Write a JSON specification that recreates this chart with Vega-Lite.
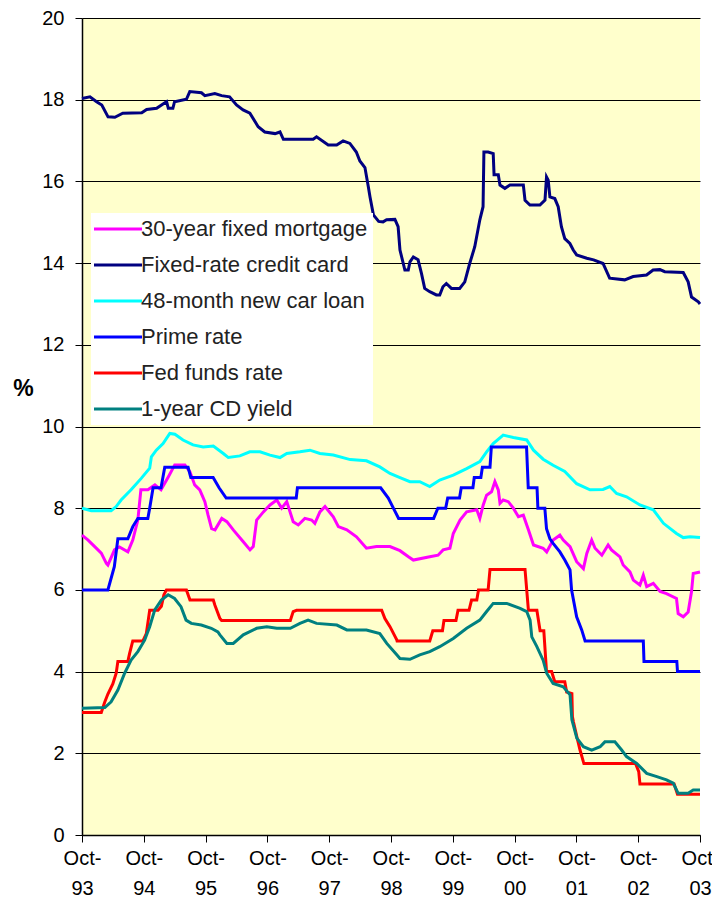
{
  "$schema": "https://vega.github.io/schema/vega-lite/v6.json",
  "width": 618,
  "height": 817,
  "autosize": {"type": "none"},
  "padding": {"left": 82, "top": 18, "right": 12, "bottom": 72},
  "background": "white",
  "config": {
    "view": {"fill": "#FFFFCC", "stroke": null},
    "font": "Liberation Sans"
  },
  "encoding": {
    "x": {
      "field": "d", "type": "temporal",
      "scale": {"domain": [{"year": 1993, "month": 10, "date": 1}, {"year": 2003, "month": 10, "date": 1}]},
      "axis": {
        "title": null,
        "values": [
          {"year": 1993, "month": 10, "date": 1}, {"year": 1994, "month": 10, "date": 1}, {"year": 1995, "month": 10, "date": 1},
          {"year": 1996, "month": 10, "date": 1}, {"year": 1997, "month": 10, "date": 1}, {"year": 1998, "month": 10, "date": 1},
          {"year": 1999, "month": 10, "date": 1}, {"year": 2000, "month": 10, "date": 1}, {"year": 2001, "month": 10, "date": 1},
          {"year": 2002, "month": 10, "date": 1}, {"year": 2003, "month": 10, "date": 1}
        ],
        "labelExpr": "['Oct-', timeFormat(datum.value, '%y')]",
        "tickSize": 7,
        "grid": false,
        "domainColor": "black",
        "domainWidth": 1.5,
        "tickColor": "black",
        "labelFontSize": 20,
        "labelColor": "black",
        "labelLineHeight": 30,
        "labelPadding": 6,
        "labelFlush": false,
        "labelOverlap": false,
        "labelBound": false
      }
    },
    "y": {
      "field": "v", "type": "quantitative",
      "scale": {"domain": [0, 20]},
      "axis": {
        "title": "%",
        "titleAngle": 0,
        "titleFontSize": 23,
        "titleFontWeight": "bold",
        "titleColor": "black",
        "titleX": -59,
        "titleY": 370,
        "titleAlign": "center",
        "titleBaseline": "middle",
        "values": [0, 2, 4, 6, 8, 10, 12, 14, 16, 18, 20],
        "grid": true,
        "gridColor": "black",
        "gridWidth": 1,
        "gridOpacity": 1,
        "tickSize": 7,
        "tickColor": "black",
        "domainColor": "black",
        "domainWidth": 1.5,
        "labelFontSize": 20,
        "labelColor": "black",
        "labelPadding": 11
      }
    }
  },
  "layer": [
    {
      "data": {"values": [
        {"d":"1993-10-01","v":7.34},{"d":"1993-11-06","v":7.22},{"d":"1993-12-15","v":7.06},{"d":"1994-01-23","v":6.90},{"d":"1994-02-22","v":6.65},{"d":"1994-03-03","v":6.61},{"d":"1994-04-11","v":6.98},{"d":"1994-05-10","v":7.05},{"d":"1994-06-29","v":6.93},{"d":"1994-07-28","v":7.22},{"d":"1994-08-27","v":7.71},{"d":"1994-09-14","v":8.45},{"d":"1994-10-25","v":8.45},{"d":"1994-12-06","v":8.57},{"d":"1995-01-11","v":8.45},{"d":"1995-02-22","v":8.76},{"d":"1995-04-02","v":9.06},{"d":"1995-06-01","v":9.06},{"d":"1995-07-01","v":8.89},{"d":"1995-07-29","v":8.57},{"d":"1995-08-28","v":8.45},{"d":"1995-09-27","v":8.16},{"d":"1995-10-16","v":7.83},{"d":"1995-11-06","v":7.50},{"d":"1995-11-26","v":7.47},{"d":"1996-01-05","v":7.75},{"d":"1996-02-04","v":7.67},{"d":"1996-03-13","v":7.47},{"d":"1996-05-11","v":7.18},{"d":"1996-06-20","v":6.98},{"d":"1996-07-09","v":7.06},{"d":"1996-07-29","v":7.71},{"d":"1996-09-07","v":7.91},{"d":"1996-10-16","v":8.08},{"d":"1996-11-25","v":8.20},{"d":"1996-12-24","v":8.00},{"d":"1997-01-23","v":8.16},{"d":"1997-03-02","v":7.67},{"d":"1997-04-01","v":7.59},{"d":"1997-05-10","v":7.75},{"d":"1997-06-19","v":7.71},{"d":"1997-07-08","v":7.63},{"d":"1997-08-07","v":7.91},{"d":"1997-09-06","v":8.04},{"d":"1997-10-25","v":7.79},{"d":"1997-11-24","v":7.55},{"d":"1998-01-13","v":7.47},{"d":"1998-03-11","v":7.30},{"d":"1998-05-09","v":7.02},{"d":"1998-07-07","v":7.06},{"d":"1998-09-25","v":7.06},{"d":"1998-11-23","v":6.96},{"d":"1999-01-12","v":6.81},{"d":"1999-02-10","v":6.73},{"d":"1999-05-18","v":6.81},{"d":"1999-07-06","v":6.85},{"d":"1999-08-05","v":6.98},{"d":"1999-09-14","v":7.02},{"d":"1999-10-04","v":7.38},{"d":"1999-11-13","v":7.71},{"d":"1999-12-22","v":7.91},{"d":"2000-02-20","v":7.96},{"d":"2000-03-09","v":7.75},{"d":"2000-03-29","v":8.08},{"d":"2000-04-18","v":8.32},{"d":"2000-05-17","v":8.40},{"d":"2000-06-06","v":8.65},{"d":"2000-06-26","v":8.45},{"d":"2000-07-06","v":8.12},{"d":"2000-07-25","v":8.20},{"d":"2000-08-24","v":8.16},{"d":"2000-09-23","v":8.00},{"d":"2000-10-23","v":7.79},{"d":"2000-11-21","v":7.83},{"d":"2000-12-21","v":7.47},{"d":"2001-01-20","v":7.10},{"d":"2001-03-18","v":7.02},{"d":"2001-04-08","v":6.93},{"d":"2001-05-16","v":7.22},{"d":"2001-06-25","v":7.34},{"d":"2001-07-15","v":7.22},{"d":"2001-08-24","v":7.06},{"d":"2001-10-02","v":6.69},{"d":"2001-11-11","v":6.52},{"d":"2001-12-01","v":6.89},{"d":"2001-12-30","v":7.22},{"d":"2002-01-19","v":7.02},{"d":"2002-02-28","v":6.85},{"d":"2002-04-06","v":7.10},{"d":"2002-04-26","v":6.98},{"d":"2002-06-15","v":6.81},{"d":"2002-07-04","v":6.61},{"d":"2002-08-13","v":6.44},{"d":"2002-09-02","v":6.24},{"d":"2002-10-11","v":6.12},{"d":"2002-10-31","v":6.36},{"d":"2002-11-20","v":6.08},{"d":"2002-12-29","v":6.16},{"d":"2003-02-07","v":5.96},{"d":"2003-03-17","v":5.91},{"d":"2003-05-15","v":5.79},{"d":"2003-05-25","v":5.42},{"d":"2003-06-24","v":5.34},{"d":"2003-07-23","v":5.46},{"d":"2003-08-12","v":5.96},{"d":"2003-08-22","v":6.40},{"d":"2003-10-01","v":6.44}
      ]},
      "mark": {"type": "line", "strokeWidth": 3},
      "encoding": {
        "color": {
          "datum": "30-year fixed mortgage", "type": "nominal",
          "scale": {
            "domain": ["30-year fixed mortgage", "Fixed-rate credit card", "48-month new car loan", "Prime rate", "Fed funds rate", "1-year CD yield"],
            "range": ["#FF00FF", "#000080", "#00FFFF", "#0000FF", "#FF0000", "#008080"]
          },
          "legend": {
            "orient": "none",
            "legendX": 9,
            "legendY": 195,
            "title": null,
            "fillColor": "white",
            "padding": 5,
            "labelFontSize": 22,
            "labelColor": "#222222",
            "labelLimit": 400,
            "symbolType": "M-4,0H4",
            "symbolSize": 144,
            "symbolStrokeWidth": 3,
            "symbolOffset": 11,
            "labelOffset": 12,
            "rowPadding": 14
          }
        }
      }
    },
    {
      "data": {"values": [
        {"d":"1993-10-01","v":18.03},{"d":"1993-11-17","v":18.07},{"d":"1993-12-26","v":17.95},{"d":"1994-01-26","v":17.87},{"d":"1994-03-04","v":17.58},{"d":"1994-04-13","v":17.57},{"d":"1994-05-30","v":17.67},{"d":"1994-09-19","v":17.68},{"d":"1994-10-18","v":17.76},{"d":"1994-12-16","v":17.79},{"d":"1995-01-25","v":17.90},{"d":"1995-02-13","v":17.95},{"d":"1995-02-23","v":17.79},{"d":"1995-03-22","v":17.79},{"d":"1995-04-01","v":17.95},{"d":"1995-06-10","v":18.01},{"d":"1995-06-30","v":18.20},{"d":"1995-09-07","v":18.17},{"d":"1995-09-27","v":18.10},{"d":"1995-11-25","v":18.15},{"d":"1996-01-04","v":18.10},{"d":"1996-02-20","v":18.07},{"d":"1996-04-01","v":17.87},{"d":"1996-05-10","v":17.75},{"d":"1996-06-19","v":17.67},{"d":"1996-08-07","v":17.34},{"d":"1996-09-15","v":17.21},{"d":"1996-11-15","v":17.17},{"d":"1996-12-14","v":17.21},{"d":"1997-01-03","v":17.03},{"d":"1997-06-28","v":17.03},{"d":"1997-07-18","v":17.09},{"d":"1997-09-25","v":16.89},{"d":"1997-11-14","v":16.89},{"d":"1997-12-22","v":16.99},{"d":"1998-01-31","v":16.93},{"d":"1998-03-10","v":16.72},{"d":"1998-03-31","v":16.50},{"d":"1998-04-30","v":16.34},{"d":"1998-05-20","v":15.87},{"d":"1998-05-30","v":15.62},{"d":"1998-06-19","v":15.18},{"d":"1998-07-20","v":15.02},{"d":"1998-08-15","v":15.01},{"d":"1998-09-05","v":15.06},{"d":"1998-10-24","v":15.07},{"d":"1998-11-12","v":14.89},{"d":"1998-11-23","v":14.32},{"d":"1998-12-22","v":13.83},{"d":"1999-01-11","v":13.83},{"d":"1999-01-21","v":14.03},{"d":"1999-02-10","v":14.15},{"d":"1999-03-10","v":14.08},{"d":"1999-03-30","v":13.75},{"d":"1999-04-18","v":13.38},{"d":"1999-05-18","v":13.30},{"d":"1999-06-26","v":13.22},{"d":"1999-07-16","v":13.22},{"d":"1999-08-04","v":13.42},{"d":"1999-08-24","v":13.50},{"d":"1999-09-23","v":13.38},{"d":"1999-11-11","v":13.38},{"d":"1999-12-11","v":13.54},{"d":"2000-01-09","v":13.99},{"d":"2000-02-08","v":14.40},{"d":"2000-03-09","v":15.06},{"d":"2000-03-28","v":15.38},{"d":"2000-04-02","v":16.72},{"d":"2000-04-27","v":16.72},{"d":"2000-05-27","v":16.68},{"d":"2000-06-01","v":16.16},{"d":"2000-06-26","v":16.16},{"d":"2000-07-06","v":15.91},{"d":"2000-08-04","v":15.83},{"d":"2000-09-03","v":15.91},{"d":"2000-11-21","v":15.91},{"d":"2000-12-01","v":15.54},{"d":"2000-12-30","v":15.42},{"d":"2001-02-27","v":15.42},{"d":"2001-03-29","v":15.54},{"d":"2001-04-07","v":16.11},{"d":"2001-04-17","v":16.03},{"d":"2001-04-27","v":15.62},{"d":"2001-05-26","v":15.58},{"d":"2001-06-15","v":15.38},{"d":"2001-07-04","v":14.89},{"d":"2001-07-24","v":14.60},{"d":"2001-08-23","v":14.48},{"d":"2001-09-12","v":14.32},{"d":"2001-10-02","v":14.20},{"d":"2001-12-01","v":14.12},{"d":"2002-01-10","v":14.08},{"d":"2002-03-07","v":13.99},{"d":"2002-04-15","v":13.63},{"d":"2002-07-13","v":13.59},{"d":"2002-09-01","v":13.67},{"d":"2002-11-19","v":13.71},{"d":"2002-12-28","v":13.83},{"d":"2003-02-06","v":13.84},{"d":"2003-03-07","v":13.79},{"d":"2003-06-24","v":13.77},{"d":"2003-07-23","v":13.54},{"d":"2003-08-12","v":13.17},{"d":"2003-09-21","v":13.05},{"d":"2003-10-01","v":13.00}
      ]},
      "mark": {"type": "line", "strokeWidth": 3},
      "encoding": {"color": {"datum": "Fixed-rate credit card", "type": "nominal"}}
    },
    {
      "data": {"values": [
        {"d":"1993-10-01","v":8.00},{"d":"1993-11-25","v":7.94},{"d":"1994-03-22","v":7.94},{"d":"1994-04-21","v":8.04},{"d":"1994-05-20","v":8.20},{"d":"1994-07-18","v":8.45},{"d":"1994-09-16","v":8.73},{"d":"1994-11-05","v":8.98},{"d":"1994-11-15","v":9.26},{"d":"1994-12-14","v":9.42},{"d":"1995-01-23","v":9.58},{"d":"1995-03-04","v":9.83},{"d":"1995-04-03","v":9.81},{"d":"1995-05-21","v":9.67},{"d":"1995-07-19","v":9.55},{"d":"1995-09-17","v":9.50},{"d":"1995-11-16","v":9.52},{"d":"1996-01-14","v":9.34},{"d":"1996-02-13","v":9.24},{"d":"1996-04-21","v":9.28},{"d":"1996-06-19","v":9.38},{"d":"1996-08-18","v":9.38},{"d":"1996-10-16","v":9.30},{"d":"1996-12-14","v":9.24},{"d":"1997-01-23","v":9.34},{"d":"1997-04-11","v":9.38},{"d":"1997-06-09","v":9.42},{"d":"1997-08-07","v":9.34},{"d":"1997-10-25","v":9.30},{"d":"1998-02-02","v":9.19},{"d":"1998-05-09","v":9.16},{"d":"1998-07-27","v":9.01},{"d":"1998-09-25","v":8.85},{"d":"1998-11-23","v":8.75},{"d":"1999-01-21","v":8.65},{"d":"1999-03-20","v":8.65},{"d":"1999-05-18","v":8.53},{"d":"1999-07-16","v":8.69},{"d":"1999-10-04","v":8.81},{"d":"1999-12-22","v":8.97},{"d":"2000-03-09","v":9.14},{"d":"2000-04-18","v":9.38},{"d":"2000-05-27","v":9.58},{"d":"2000-07-25","v":9.79},{"d":"2000-09-23","v":9.73},{"d":"2000-12-11","v":9.67},{"d":"2001-01-20","v":9.42},{"d":"2001-03-18","v":9.20},{"d":"2001-05-16","v":9.05},{"d":"2001-07-24","v":8.90},{"d":"2001-10-02","v":8.60},{"d":"2001-12-20","v":8.45},{"d":"2002-03-07","v":8.46},{"d":"2002-04-16","v":8.53},{"d":"2002-05-26","v":8.36},{"d":"2002-07-24","v":8.28},{"d":"2002-10-11","v":8.08},{"d":"2002-12-29","v":7.96},{"d":"2003-02-27","v":7.63},{"d":"2003-05-15","v":7.38},{"d":"2003-06-24","v":7.28},{"d":"2003-08-03","v":7.30},{"d":"2003-10-01","v":7.28}
      ]},
      "mark": {"type": "line", "strokeWidth": 3},
      "encoding": {"color": {"datum": "48-month new car loan", "type": "nominal"}}
    },
    {
      "data": {"values": [
        {"d":"1993-10-01","v":6.0},{"d":"1994-03-03","v":6.0},{"d":"1994-04-10","v":6.57},{"d":"1994-05-01","v":7.25},{"d":"1994-06-29","v":7.25},{"d":"1994-07-28","v":7.55},{"d":"1994-08-27","v":7.75},{"d":"1994-10-25","v":7.75},{"d":"1994-11-05","v":8.0},{"d":"1994-11-25","v":8.5},{"d":"1995-01-11","v":8.5},{"d":"1995-02-02","v":9.0},{"d":"1995-06-20","v":9.0},{"d":"1995-07-06","v":8.75},{"d":"1995-11-15","v":8.75},{"d":"1995-12-20","v":8.5},{"d":"1996-01-31","v":8.25},{"d":"1997-03-20","v":8.25},{"d":"1997-03-27","v":8.5},{"d":"1998-08-01","v":8.5},{"d":"1998-09-15","v":8.25},{"d":"1998-10-15","v":8.0},{"d":"1998-11-15","v":7.75},{"d":"1999-06-10","v":7.75},{"d":"1999-07-05","v":8.0},{"d":"1999-08-20","v":8.0},{"d":"1999-09-01","v":8.25},{"d":"1999-11-10","v":8.25},{"d":"1999-11-20","v":8.5},{"d":"2000-01-28","v":8.5},{"d":"2000-02-05","v":8.75},{"d":"2000-03-15","v":8.75},{"d":"2000-03-24","v":9.0},{"d":"2000-05-08","v":9.0},{"d":"2000-05-16","v":9.5},{"d":"2000-12-10","v":9.5},{"d":"2000-12-20","v":8.5},{"d":"2001-02-10","v":8.5},{"d":"2001-02-15","v":8.0},{"d":"2001-03-28","v":8.0},{"d":"2001-04-07","v":7.5},{"d":"2001-04-27","v":7.25},{"d":"2001-05-16","v":7.14},{"d":"2001-06-25","v":6.93},{"d":"2001-07-24","v":6.73},{"d":"2001-08-24","v":6.49},{"d":"2001-09-02","v":6.0},{"d":"2001-10-02","v":5.34},{"d":"2001-11-01","v":5.02},{"d":"2001-11-21","v":4.75},{"d":"2002-10-31","v":4.75},{"d":"2002-11-04","v":4.25},{"d":"2003-05-17","v":4.25},{"d":"2003-05-21","v":4.0},{"d":"2003-10-01","v":4.0}
      ]},
      "mark": {"type": "line", "strokeWidth": 3},
      "encoding": {"color": {"datum": "Prime rate", "type": "nominal"}}
    },
    {
      "data": {"values": [
        {"d":"1993-10-01","v":3.0},{"d":"1994-01-23","v":3.0},{"d":"1994-02-12","v":3.25},{"d":"1994-03-03","v":3.45},{"d":"1994-04-01","v":3.7},{"d":"1994-04-21","v":3.96},{"d":"1994-05-01","v":4.25},{"d":"1994-06-29","v":4.25},{"d":"1994-07-09","v":4.44},{"d":"1994-07-28","v":4.75},{"d":"1994-09-26","v":4.75},{"d":"1994-10-16","v":4.93},{"d":"1994-11-05","v":5.5},{"d":"1994-12-24","v":5.5},{"d":"1995-01-13","v":5.6},{"d":"1995-01-28","v":5.88},{"d":"1995-02-12","v":6.0},{"d":"1995-06-10","v":6.0},{"d":"1995-07-01","v":5.75},{"d":"1995-11-16","v":5.75},{"d":"1995-11-25","v":5.63},{"d":"1995-12-25","v":5.3},{"d":"1996-01-04","v":5.25},{"d":"1997-02-13","v":5.25},{"d":"1997-03-02","v":5.47},{"d":"1997-03-22","v":5.5},{"d":"1998-08-07","v":5.5},{"d":"1998-08-26","v":5.3},{"d":"1998-09-25","v":5.1},{"d":"1998-11-04","v":4.78},{"d":"1998-11-06","v":4.75},{"d":"1999-05-18","v":4.75},{"d":"1999-06-05","v":5.0},{"d":"1999-08-01","v":5.0},{"d":"1999-08-10","v":5.25},{"d":"1999-10-20","v":5.25},{"d":"1999-11-01","v":5.5},{"d":"2000-01-05","v":5.5},{"d":"2000-01-20","v":5.75},{"d":"2000-02-20","v":5.75},{"d":"2000-03-01","v":6.0},{"d":"2000-04-27","v":6.0},{"d":"2000-05-08","v":6.5},{"d":"2000-12-01","v":6.5},{"d":"2000-12-21","v":5.5},{"d":"2001-02-09","v":5.5},{"d":"2001-02-28","v":5.0},{"d":"2001-03-22","v":5.0},{"d":"2001-04-07","v":4.0},{"d":"2001-05-07","v":4.0},{"d":"2001-05-26","v":3.75},{"d":"2001-07-24","v":3.75},{"d":"2001-08-04","v":3.5},{"d":"2001-09-04","v":3.46},{"d":"2001-09-07","v":2.9},{"d":"2001-09-13","v":2.77},{"d":"2001-10-03","v":2.41},{"d":"2001-10-22","v":2.08},{"d":"2001-11-11","v":1.79},{"d":"2001-11-14","v":1.75},{"d":"2002-09-15","v":1.75},{"d":"2002-10-04","v":1.55},{"d":"2002-10-11","v":1.25},{"d":"2003-05-01","v":1.25},{"d":"2003-05-21","v":1.0},{"d":"2003-10-01","v":1.0}
      ]},
      "mark": {"type": "line", "strokeWidth": 3},
      "encoding": {"color": {"datum": "Fed funds rate", "type": "nominal"}}
    },
    {
      "data": {"values": [
        {"d":"1993-10-01","v":3.10},{"d":"1994-02-13","v":3.12},{"d":"1994-03-22","v":3.26},{"d":"1994-05-01","v":3.55},{"d":"1994-06-10","v":3.96},{"d":"1994-07-18","v":4.28},{"d":"1994-08-27","v":4.49},{"d":"1994-10-06","v":4.77},{"d":"1994-11-05","v":5.10},{"d":"1994-12-05","v":5.51},{"d":"1995-01-13","v":5.75},{"d":"1995-02-22","v":5.88},{"d":"1995-04-01","v":5.79},{"d":"1995-05-09","v":5.59},{"d":"1995-06-08","v":5.26},{"d":"1995-07-09","v":5.18},{"d":"1995-09-06","v":5.14},{"d":"1995-11-04","v":5.06},{"d":"1995-12-13","v":4.97},{"d":"1995-12-25","v":4.90},{"d":"1996-02-04","v":4.69},{"d":"1996-03-13","v":4.69},{"d":"1996-05-11","v":4.90},{"d":"1996-07-29","v":5.06},{"d":"1996-09-27","v":5.10},{"d":"1996-11-25","v":5.06},{"d":"1997-02-13","v":5.06},{"d":"1997-04-11","v":5.18},{"d":"1997-05-29","v":5.26},{"d":"1997-07-18","v":5.18},{"d":"1997-11-15","v":5.14},{"d":"1998-01-13","v":5.02},{"d":"1998-05-09","v":5.02},{"d":"1998-07-27","v":4.93},{"d":"1998-09-06","v":4.69},{"d":"1998-11-04","v":4.41},{"d":"1998-11-23","v":4.32},{"d":"1999-01-21","v":4.30},{"d":"1999-03-20","v":4.41},{"d":"1999-05-18","v":4.49},{"d":"1999-07-16","v":4.61},{"d":"1999-10-04","v":4.81},{"d":"1999-12-22","v":5.06},{"d":"2000-03-09","v":5.26},{"d":"2000-04-18","v":5.47},{"d":"2000-05-27","v":5.67},{"d":"2000-08-15","v":5.67},{"d":"2000-11-02","v":5.55},{"d":"2000-12-11","v":5.47},{"d":"2000-12-31","v":5.26},{"d":"2001-01-10","v":4.85},{"d":"2001-02-09","v":4.61},{"d":"2001-03-18","v":4.28},{"d":"2001-04-08","v":3.96},{"d":"2001-05-16","v":3.71},{"d":"2001-07-15","v":3.63},{"d":"2001-08-24","v":3.43},{"d":"2001-09-04","v":2.82},{"d":"2001-10-03","v":2.37},{"d":"2001-11-11","v":2.16},{"d":"2001-12-30","v":2.08},{"d":"2002-02-18","v":2.16},{"d":"2002-03-18","v":2.28},{"d":"2002-05-16","v":2.28},{"d":"2002-06-25","v":2.08},{"d":"2002-07-24","v":1.92},{"d":"2002-09-22","v":1.75},{"d":"2002-11-20","v":1.51},{"d":"2003-01-19","v":1.43},{"d":"2003-03-17","v":1.35},{"d":"2003-04-26","v":1.27},{"d":"2003-05-25","v":1.02},{"d":"2003-07-23","v":1.02},{"d":"2003-08-22","v":1.10},{"d":"2003-10-01","v":1.10}
      ]},
      "mark": {"type": "line", "strokeWidth": 3},
      "encoding": {"color": {"datum": "1-year CD yield", "type": "nominal"}}
    },
    {
      "data": {"values": [
        {"d":"1994-01-01"},{"d":"1994-04-01"},{"d":"1994-07-01"},{"d":"1995-01-01"},{"d":"1995-04-01"},{"d":"1995-07-01"},{"d":"1996-01-01"},{"d":"1996-04-01"},{"d":"1996-07-01"},{"d":"1997-01-01"},{"d":"1997-04-01"},{"d":"1997-07-01"},{"d":"1998-01-01"},{"d":"1998-04-01"},{"d":"1998-07-01"},{"d":"1999-01-01"},{"d":"1999-04-01"},{"d":"1999-07-01"},{"d":"2000-01-01"},{"d":"2000-04-01"},{"d":"2000-07-01"},{"d":"2001-01-01"},{"d":"2001-04-01"},{"d":"2001-07-01"},{"d":"2002-01-01"},{"d":"2002-04-01"},{"d":"2002-07-01"},{"d":"2003-01-01"},{"d":"2003-04-01"},{"d":"2003-07-01"}
      ]},
      "mark": {"type": "rule", "color": "black", "strokeWidth": 1},
      "encoding": {
        "y": {"datum": 0, "type": "quantitative"},
        "y2": {"datum": 0.13}
      }
    }
  ]
}
